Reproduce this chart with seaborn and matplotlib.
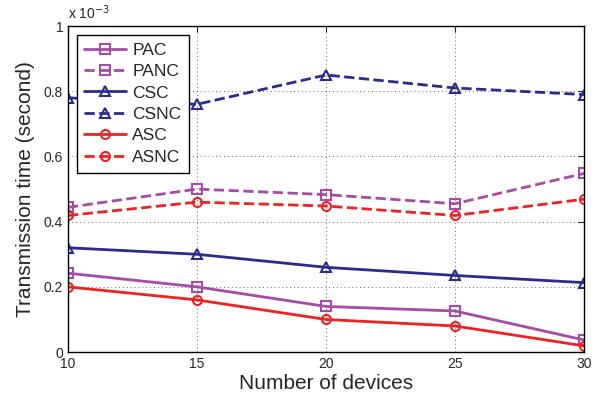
import matplotlib
matplotlib.use("Agg")
import matplotlib.pyplot as plt
import numpy as np
import pandas as pd
import seaborn as sns

devices = [10, 15, 20, 25, 30]
# transmission time in units of 1e-3 s
pac = [0.242, 0.200, 0.140, 0.126, 0.037]
panc = [0.444, 0.500, 0.483, 0.455, 0.548]
csc = [0.320, 0.300, 0.260, 0.235, 0.213]
csnc = [0.780, 0.760, 0.850, 0.810, 0.790]
asc = [0.200, 0.160, 0.100, 0.080, 0.019]
asnc = [0.419, 0.460, 0.448, 0.419, 0.469]

series = [
    ("PAC", pac, "#a64ca6", "s", "-"),
    ("PANC", panc, "#a64ca6", "s", "--"),
    ("CSC", csc, "#2b2b8f", "^", "-"),
    ("CSNC", csnc, "#2b2b8f", "^", "--"),
    ("ASC", asc, "#ee2222", "o", "-"),
    ("ASNC", asnc, "#ee2222", "o", "--"),
]

sns.set_style("white")
plt.rcParams["font.family"] = ["Liberation Sans", "DejaVu Sans"]

fig = plt.figure(figsize=(5.99, 4.01), dpi=100)
ax = fig.add_axes([0.1135, 0.122, 0.8615, 0.813])

for name, vals, color, marker, ls in series:
    df = pd.DataFrame({"devices": devices, "time": vals})
    sns.lineplot(
        data=df, x="devices", y="time", ax=ax, color=color, marker=marker,
        linestyle=ls, linewidth=2, markersize=6.5, markerfacecolor="none",
        markeredgecolor=color, markeredgewidth=1.5, label=name,
        dashes=False if ls == "-" else (5, 3),
    )

ax.set_xlim(10, 30)
ax.set_ylim(0, 1)
ax.set_xticks(devices)
ax.set_yticks([0, 0.2, 0.4, 0.6, 0.8, 1.0])
ax.set_yticklabels(["0", "0.2", "0.4", "0.6", "0.8", "1"])
ax.tick_params(direction="in", top=True, right=True, labelsize=10, length=4)
ax.grid(True, linestyle=(0, (1, 3)), color="black", linewidth=0.7, alpha=0.6)
for sp in ax.spines.values():
    sp.set_color("black")
    sp.set_linewidth(1)

ax.set_xlabel("Number of devices", fontsize=15, labelpad=2)
ax.set_ylabel("Transmission time (second)", fontsize=15, labelpad=6)
ax.text(0.0, 1.012, r"x 10$^{-3}$", transform=ax.transAxes, fontsize=10,
        ha="left", va="bottom")

leg = ax.legend(loc="upper left", fontsize=12.5, handlelength=2.4,
                handletextpad=0.35, fancybox=False, framealpha=1,
                edgecolor="black", borderaxespad=0.5, labelspacing=0.36,
                borderpad=0.45)
leg.get_frame().set_linewidth(1)

fig.savefig("out.png", dpi=100)
